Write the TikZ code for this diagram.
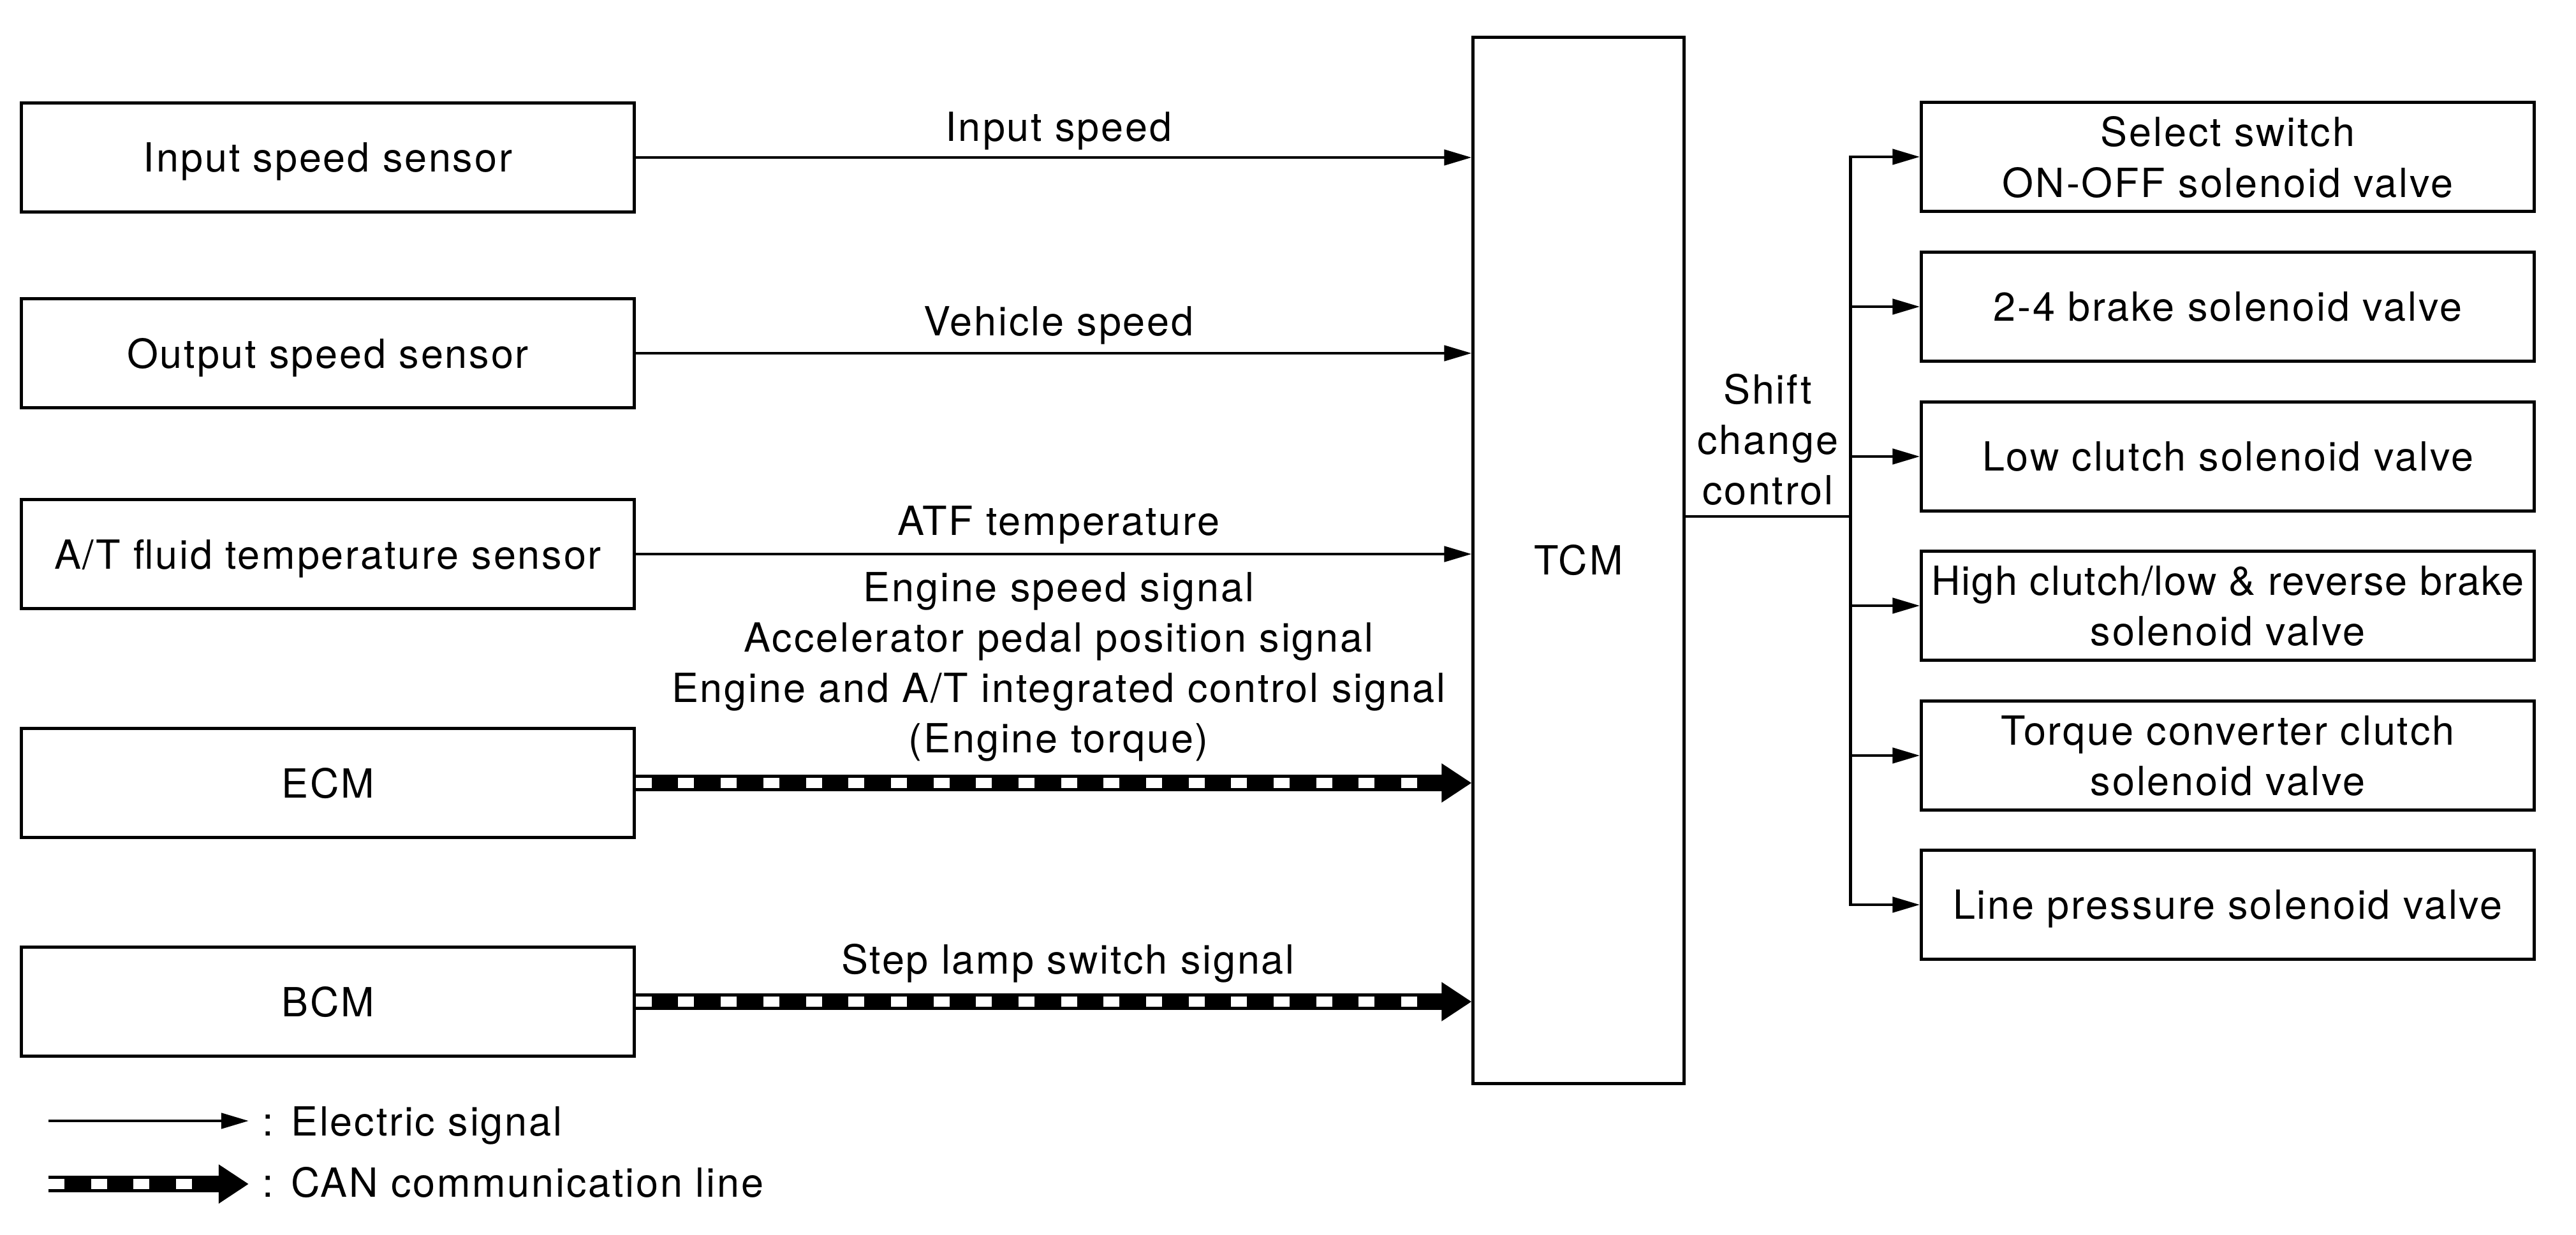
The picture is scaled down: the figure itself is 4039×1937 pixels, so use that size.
\documentclass[tikz,border=0pt]{standalone}
\usepackage{fontspec}
\setmainfont{TeX Gyre Heros}[LetterSpace=4.5]
\usetikzlibrary{arrows.meta}

\begin{document}
\begin{tikzpicture}[x=0.01cm,y=-0.01cm,
  font=\fontsize{17.9}{22.5}\selectfont,
  box/.style={draw,line width=1.4pt,minimum width=9.6cm,minimum height=1.7cm,inner sep=0pt,text depth=0pt,align=center},
  sig/.style={line width=1.4pt,-{Triangle[length=4.3mm,width=2.4mm]}},
  can/.style={line width=2.6mm,-{Triangle[length=4.7mm,width=5.8mm]},
    postaction={draw=white,arrows=-,line width=1.6mm,dash pattern=on 2.5mm off 4.165mm,dash phase=0mm,shorten >=4.8mm}},
  lbl/.style={inner sep=0pt,text depth=0pt,align=center}]
\useasboundingbox (0,0) rectangle (4039,1937);
% inputs
\node[box] (iss) at (514,247) {Input speed sensor};
\node[box] (oss) at (514,554) {Output speed sensor};
\node[box] (atf) at (514,869) {A/T fluid temperature sensor};
\node[box] (ecm) at (514,1228) {ECM};
\node[box] (bcm) at (514,1571) {BCM};
\node[draw,line width=1.4pt,minimum width=3.3cm,minimum height=16.4cm] (tcm) at (2475,879) {TCM};
% outputs
\node[box] (ssv) at (3493,246) {Select switch\\ON-OFF solenoid valve};
\node[box] (bsv) at (3493,481) {2-4 brake solenoid valve};
\node[box] (lcv) at (3493,716) {Low clutch solenoid valve};
\node[box] (hcv) at (3493,950) {\addfontfeature{LetterSpace=3}High clutch/low \& reverse brake\\solenoid valve};
\node[box] (tcv) at (3493,1185) {Torque converter clutch\\solenoid valve};
\node[box] (lpv) at (3493,1419) {Line pressure solenoid valve};
\coordinate (jn) at (2901,810);
% signals to TCM
\draw[sig] (iss.east) -- (iss.east -| tcm.west) node[lbl,pos=0.506,above=2.3mm] (lin) {Input speed};
\draw[sig] (oss.east) -- (oss.east -| tcm.west) node[lbl,pos=0.506,above=2.5mm] (lvs) {Vehicle speed};
\draw[sig] (atf.east) -- (atf.east -| tcm.west) node[lbl,pos=0.506,above=2.7mm] (lat) {ATF temperature};
\draw[can] (ecm.east) -- (ecm.east -| tcm.west) node[lbl,pos=0.506,above=3.4mm] (lec) {Engine speed signal\\Accelerator pedal position signal\\Engine and A/T integrated control signal\\(Engine torque)};
\draw[can] (bcm.east) -- (bcm.east -| tcm.west) node[lbl,pos=0.517,above=3.0mm] (lbc) {Step lamp switch signal};
% shift change control
\draw[line width=1.4pt] (tcm.east |- jn) -- (jn) node[lbl,midway,above=1.6mm] (lsc) {Shift\\change\\control};
\draw[line width=1.4pt,line cap=rect] (jn |- ssv.west) -- (jn |- lpv.west);
\draw[sig] (jn |- ssv.west) -- (ssv.west);
\draw[sig] (jn |- bsv.west) -- (bsv.west);
\draw[sig] (jn |- lcv.west) -- (lcv.west);
\draw[sig] (jn |- hcv.west) -- (hcv.west);
\draw[sig] (jn |- tcv.west) -- (tcv.west);
\draw[sig] (jn |- lpv.west) -- (lpv.west);
% legend
\coordinate (ea) at (76,1758);
\coordinate (eb) at (390,1758);
\coordinate (ca) at (76,1857);
\coordinate (cb) at (390,1857);
\draw[sig] (ea) -- (eb);
\draw[can] (ca) -- (cb);
\node[lbl,anchor=base west] (lge) at (411,1781) {: Electric signal};
\node[lbl,anchor=base west] (lgc) at (411,1877) {: CAN communication line};
\end{tikzpicture}
\end{document}
